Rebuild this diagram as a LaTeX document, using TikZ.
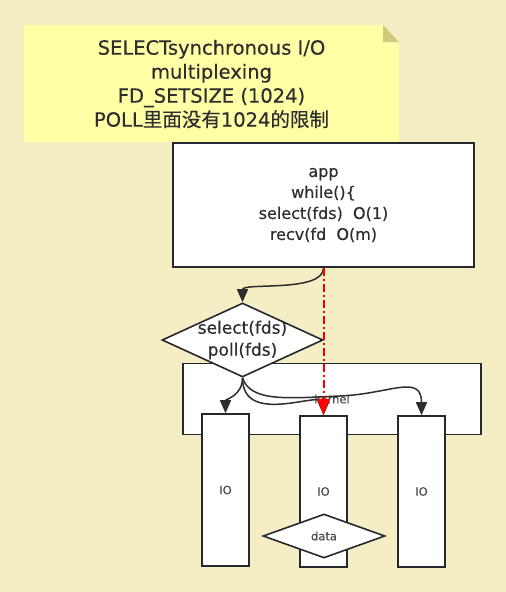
\documentclass[tikz,border=0pt]{standalone}
\usepackage{fontspec}
\setmainfont{DejaVu Sans}[FakeBold=0.4]
\newfontfamily\cjk{Noto Sans CJK SC}[FakeBold=0.4]
\usetikzlibrary{shapes.geometric,arrows.meta}
\definecolor{paper}{HTML}{F5EDC3}
\definecolor{notefill}{HTML}{FFFFA6}
\definecolor{foldfill}{HTML}{CFCB7E}
\definecolor{boxline}{HTML}{23292E}
\definecolor{ink}{HTML}{2E2E2E}
\definecolor{inkgray}{HTML}{4A4A4A}
\definecolor{dashred}{HTML}{FF0000}

\begin{document}
\begin{tikzpicture}[x=1pt,y=-1pt,
	box/.style={draw=boxline,line width=1.8pt,fill=white,inner sep=0pt},
	decision/.style={diamond,draw=boxline,line width=1.6pt,fill=white,inner sep=0pt},
	main/.style={text=ink,align=center,font=\fontsize{16}{21}\selectfont},
	small/.style={text=inkgray,font=\fontsize{11.5}{14}\selectfont},
	arr/.style={draw=ink,line width=1.5pt,-{Triangle[length=13pt,width=11pt]}},
	redarr/.style={draw=dashred,line width=2pt,dash pattern=on 8pt off 3pt on 2pt off 3pt,-{Triangle[length=16pt,width=12pt]}}]
	\fill[paper] (0,0) rectangle (506,592);
	\useasboundingbox (0,0) rectangle (506,592);
	%note with folded corner
	\fill[notefill] (24,25) -- (383,25) -- (399,42) -- (399,142) -- (24,142) -- cycle;
	\fill[foldfill] (383,25) -- (383,42) -- (399,42) -- cycle;
	\node[main,font=\fontsize{19.5}{24}\selectfont] (note) at (211.5,84) {SELECTsynchronous I/O\\multiplexing\\FD\_SETSIZE (1024)\\POLL{\cjk 里面没有}1024{\cjk 的限制}};
	%BOXES
	\node[box,main,minimum width=301pt,minimum height=124pt] (app) at (323.5,205) {app\\while()\{\\select(fds)\ \ O(1)\\recv(fd\ \ O(m)};
	\node[box,small,minimum width=298pt,minimum height=71pt] (kernel) at (332,399) {kernel};
	\node[decision,minimum width=161pt,minimum height=74pt,label={[main,font=\fontsize{17}{22}\selectfont]center:select(fds)\\poll(fds)}] (sel) at (242.5,340) {};
	\node[box,small,line width=1.6pt,minimum width=47pt,minimum height=152pt] (ioA) at (225.5,490) {IO};
	\node[box,small,line width=1.6pt,minimum width=47pt,minimum height=151pt] (ioB) at (323.5,491.5) {IO};
	\node[box,small,line width=1.6pt,minimum width=47pt,minimum height=151pt] (ioC) at (421.5,491.5) {IO};
	\node[decision,small,minimum width=122pt,minimum height=44pt] (data) at (324,536) {data};
	%ARROWS
	\draw[arr] (app.south) .. controls +(0,25) and +(0,-20) .. (sel.north);
	\draw[arr] (sel.south) .. controls +(0,18) and +(0,-14) .. (ioA.north);
	\draw[arr] (sel.south) .. controls +(0,50) and +(0,-26) .. (ioB.north);
	\draw[arr] (sel.south) .. controls +(8,25) and (290,398) .. (340,396) .. controls (390,394) and +(0,-42) .. (ioC.north);
	\draw[redarr] (app.south) -- (ioB.north);
\end{tikzpicture}
\end{document}
